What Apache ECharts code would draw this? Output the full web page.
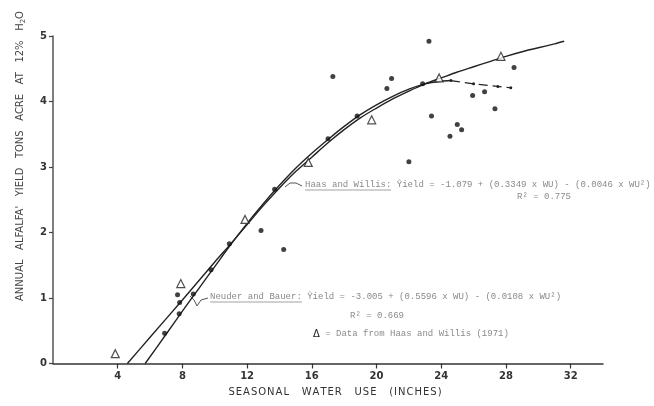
<!DOCTYPE html>
<html>
<head>
<meta charset="utf-8">
<script src="https://cdn.jsdelivr.net/npm/echarts@6/dist/echarts.min.js"></script>
<style>html,body{margin:0;padding:0;background:#fff}#c{width:654px;height:406px}</style>
</head>
<body>
<div id="c"></div>
<script>
// ---- data ----
const xTicks = [4, 8, 12, 16, 20, 24, 28, 32];
const yTicks = [0, 1, 2, 3, 4, 5];

// field observations (filled dots): [seasonal water use, yield]
const fieldDots = [
  [6.9, 0.46], [7.7, 1.05], [7.83, 0.93], [7.8, 0.76], [8.67, 1.06], [9.77, 1.43],
  [10.9, 1.83], [12.86, 2.03], [14.26, 1.74], [13.7, 2.66], [17.0, 3.43], [18.8, 3.78],
  [17.3, 4.38], [21.03, 5.08], [23.36, 5.11], [23.24, 4.92], [27.52, 5.14], [28.5, 4.52],
  [20.93, 4.35], [20.64, 4.2], [22.85, 4.27], [25.94, 4.09], [26.68, 4.15], [27.32, 3.89],
  [23.4, 3.78], [24.99, 3.65], [25.26, 3.57], [24.54, 3.47], [22.0, 3.08]
];

// Haas and Willis (1971) data (open triangles)
const haasData = [
  [3.85, 0.15], [7.9, 1.22], [11.87, 2.2], [15.78, 3.07], [19.7, 3.72],
  [23.87, 4.36], [27.69, 4.69], [31.54, 5.06]
];

// Haas and Willis fitted curve
const haasCurve = [
  [4.6, 0], [6, 0.4], [8, 0.97], [10, 1.55], [11, 1.83], [12, 2.12], [13, 2.41],
  [14, 2.68], [15, 2.93], [16, 3.15], [17, 3.37], [18, 3.57], [19, 3.75], [20, 3.9],
  [21, 4.04], [22, 4.16], [23, 4.27], [24, 4.36], [25, 4.45], [26, 4.53], [27, 4.61],
  [28, 4.69], [29, 4.76], [30, 4.82], [31, 4.88], [31.6, 4.92]
];

// Neuder and Bauer fitted curve
const neuderCurve = [
  [5.7, 0], [7, 0.45], [8, 0.8], [9, 1.14], [10, 1.48], [11, 1.82], [12, 2.14],
  [13, 2.44], [14, 2.72], [15, 2.98], [16, 3.21], [17, 3.42], [18, 3.62], [19, 3.8],
  [20, 3.95], [21, 4.08], [22, 4.19], [23, 4.27], [24, 4.31], [24.6, 4.32]
];
// dashed extension of Neuder and Bauer curve
const neuderExtension = [[24.6, 4.32], [26, 4.27], [27.5, 4.23], [28.3, 4.21]];

const chart = echarts.init(document.getElementById('c'), null, {renderer: 'canvas'});
const mono = "'Liberation Mono', 'DejaVu Sans Mono', monospace";
const sans = "'DejaVu Sans', 'Liberation Sans', sans-serif";
const txtGray = '#8a8a8a';
const hs = '\u200A';
const spaced = s => s.split(' ').map(w => w.split('').join(hs)).join('    ');

chart.setOption({
  animation: false,
  backgroundColor: '#fff',
  grid: {left: 53, right: 51, top: 36, bottom: 42.5, containLabel: false, outerBoundsMode: 'none'},
  xAxis: {
    type: 'value', min: 0, max: 34, interval: 4,
    splitLine: {show: false},
    axisLine: {show: true, onZero: false, lineStyle: {color: '#333', width: 1.5}},
    axisTick: {show: true, length: 5, customValues: xTicks, lineStyle: {color: '#333', width: 1.2}},
    axisLabel: {customValues: xTicks, margin: 8, fontSize: 10, fontWeight: 'bold', color: '#333', fontFamily: sans}
  },
  yAxis: {
    type: 'value', min: 0, max: 5, interval: 1,
    splitLine: {show: false},
    axisLine: {show: true, lineStyle: {color: '#555', width: 1.5}},
    axisTick: {show: true, length: 4, customValues: yTicks, lineStyle: {color: '#444', width: 1.2}},
    axisLabel: {customValues: yTicks, margin: 6, fontSize: 10, fontWeight: 'bold', color: '#333', fontFamily: sans}
  },
  series: [
    {type: 'line', data: haasCurve, smooth: 0.3, showSymbol: false, symbol: 'none',
     lineStyle: {color: '#222', width: 1.4}, z: 2},
    {type: 'line', data: neuderCurve, smooth: 0.3, showSymbol: false, symbol: 'none',
     lineStyle: {color: '#222', width: 1.4}, z: 2},
    {type: 'line', data: neuderExtension, symbol: 'circle', symbolSize: 3, showSymbol: true,
     itemStyle: {color: '#222'}, lineStyle: {color: '#222', width: 1.2, type: [9, 5]}, z: 2},
    {type: 'scatter', data: fieldDots, symbol: 'circle', symbolSize: 5,
     itemStyle: {color: '#111'}, z: 3},
    {type: 'scatter', data: haasData, symbol: 'triangle', symbolSize: 8,
     itemStyle: {color: '#fff', borderColor: '#222', borderWidth: 1.2}, z: 4}
  ],
  graphic: [
    // y axis title
    {type: 'text', x: 20, y: 156, rotation: Math.PI / 2,
     style: {text: 'ANNUAL   ALFALFA\'   YIELD   TONS   ACRE   AT   12%   H{s|2}O', fontSize: 10, fontFamily: sans,
       fill: '#444', align: 'center', verticalAlign: 'middle',
       rich: {s: {fontSize: 7, fontFamily: sans, fill: '#444', padding: [6, 0, 0, 0]}}}},
    // x axis title
    {type: 'text', x: 335, y: 392,
     style: {text: spaced('SEASONAL WATER USE (INCHES)'), fontSize: 10, fontFamily: sans, fill: '#333',
       align: 'center', verticalAlign: 'middle'}},
    // Haas and Willis equation
    {type: 'text', x: 305, y: 185,
     style: {text: 'Haas and Willis: \u0176ield = -1.079 + (0.3349 x WU) - (0.0046 x WU\u00b2)',
       fontSize: 9, fontFamily: mono, fill: txtGray, verticalAlign: 'middle'}},
    {type: 'line', shape: {x1: 305, y1: 190, x2: 391, y2: 190}, style: {stroke: txtGray, lineWidth: 0.8}},
    {type: 'text', x: 517, y: 197,
     style: {text: 'R\u00b2 = 0.775', fontSize: 9, fontFamily: mono, fill: txtGray, verticalAlign: 'middle'}},
    {type: 'polyline', shape: {points: [[302, 186], [296, 183], [290, 183], [285, 187]]},
     style: {stroke: '#555', lineWidth: 1, fill: null}},
    // Neuder and Bauer equation
    {type: 'text', x: 210, y: 297,
     style: {text: 'Neuder and Bauer: \u0176ield = -3.005 + (0.5596 x WU) - (0.0108 x WU\u00b2)',
       fontSize: 9, fontFamily: mono, fill: txtGray, verticalAlign: 'middle'}},
    {type: 'line', shape: {x1: 210, y1: 302, x2: 302, y2: 302}, style: {stroke: txtGray, lineWidth: 0.8}},
    {type: 'text', x: 350, y: 316,
     style: {text: 'R\u00b2 = 0.669', fontSize: 9, fontFamily: mono, fill: txtGray, verticalAlign: 'middle'}},
    {type: 'polyline', shape: {points: [[208, 298], [201, 300], [197, 306], [194, 300], [190, 296]]},
     style: {stroke: '#555', lineWidth: 1, fill: null}},
    // legend note
    {type: 'text', x: 313, y: 334,
     style: {text: '{t|\u0394} = Data from Haas and Willis (1971)', fontSize: 9, fontFamily: mono, fill: txtGray,
       verticalAlign: 'middle', rich: {t: {fontSize: 10, fontFamily: sans, fill: '#222'}}}}
  ]
});
</script>
</body>
</html>
